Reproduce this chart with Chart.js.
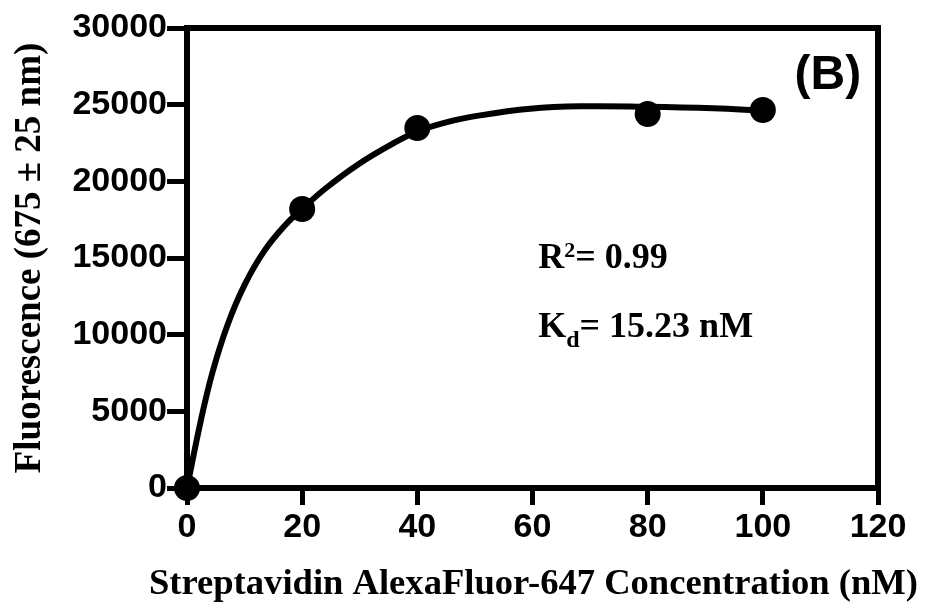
<!DOCTYPE html>
<html><head><meta charset="utf-8">
<script src="https://cdn.jsdelivr.net/npm/chart.js@4.4.1/dist/chart.umd.min.js"></script>
<style>html,body{margin:0;padding:0;background:#fff;}#wrap{width:932px;height:610px;}</style>
</head><body><div id="wrap"><canvas id="c" width="932" height="610"></canvas></div>
<script>
// Measured data points
const concentrations = [0, 20, 40, 80, 100];
const fluorescence = [0, 18200, 23480, 24390, 24650];
// Fitted curve
const fitX = [0, 2.4, 4.5, 7.1, 10, 13.4, 17.2, 20, 24.1, 29.9, 35.7, 40, 45, 50.9, 59.6, 68.3, 79.8, 91.4, 100];
const fitY = [0, 4400, 7650, 10700, 13250, 15450, 17200, 18200, 19550, 21150, 22450, 23250, 23850, 24300, 24730, 24890, 24860, 24760, 24610];
// Tick labels
const xTicks = [0, 20, 40, 60, 80, 100, 120];
const yTicks = [0, 5000, 10000, 15000, 20000, 25000, 30000];
// Texts
const xTitle = 'Streptavidin AlexaFluor-647 Concentration (nM)';
const yTitle = 'Fluorescence (675 \u00B1 25 nm)';
const panelLabel = '(B)';
const r2Text = '= 0.99';
const kdText = '= 15.23 nM';

const SANS = "'Liberation Sans', Arial, sans-serif";
const SERIF = "'Liberation Serif', 'Times New Roman', serif";

const decor = {
  id: 'decor',
  beforeDatasetsDraw(chart) {
    const {ctx, chartArea: a} = chart;
    ctx.save();
    ctx.strokeStyle = '#000';
    ctx.lineWidth = 6;
    ctx.lineCap = 'square';
    ctx.beginPath();
    ctx.moveTo(a.left, a.top);
    ctx.lineTo(a.right, a.top);
    ctx.lineTo(a.right, a.bottom);
    ctx.stroke();
    ctx.restore();
  },
  afterDraw(chart) {
    const {ctx, chartArea: a} = chart;
    const xs = chart.scales.x, ys = chart.scales.y;
    ctx.save();
    ctx.fillStyle = '#000';
    ctx.textBaseline = 'alphabetic';
    // x axis title
    ctx.font = "bold 36.6px " + SERIF;
    ctx.textAlign = 'center';
    ctx.fillText(xTitle, (a.left + a.right) / 2 + 1, xs.bottom - 16);
    // panel label
    ctx.font = "bold 48px " + SANS;
    ctx.fillText(panelLabel, xs.getPixelForValue(111.3), ys.getPixelForValue(26050));
    ctx.textAlign = 'left';
    // R^2
    let x = xs.getPixelForValue(61.0);
    let y = ys.getPixelForValue(14350);
    ctx.font = "bold 36px " + SERIF;
    ctx.fillText('R', x, y);
    x += ctx.measureText('R').width;
    ctx.font = "bold 22px " + SERIF;
    ctx.fillText('2', x, y - 11);
    x += ctx.measureText('2').width;
    ctx.font = "bold 36px " + SERIF;
    ctx.fillText(r2Text, x, y);
    // Kd
    x = xs.getPixelForValue(61.0);
    y = ys.getPixelForValue(9850);
    ctx.fillText('K', x, y);
    x += ctx.measureText('K').width;
    ctx.font = "bold 24px " + SERIF;
    ctx.fillText('d', x, y + 10);
    x += ctx.measureText('d').width;
    ctx.font = "bold 36px " + SERIF;
    ctx.fillText(kdText, x, y);
    ctx.restore();
  }
};

new Chart(document.getElementById('c'), {
  type: 'line',
  data: {
    datasets: [
      {
        label: 'data',
        data: concentrations.map((v, i) => ({x: v, y: fluorescence[i]})),
        showLine: false,
        pointRadius: 13,
        pointHoverRadius: 13,
        pointBackgroundColor: '#000',
        pointBorderColor: '#000',
        pointBorderWidth: 0,
        clip: false,
        order: 0
      },
      {
        label: 'fit',
        data: fitX.map((v, i) => ({x: v, y: fitY[i]})),
        borderColor: '#000',
        borderWidth: 6,
        pointRadius: 0,
        tension: 0.4,
        fill: false,
        clip: false,
        order: 1
      }
    ]
  },
  options: {
    responsive: false,
    animation: false,
    events: [],
    layout: {padding: {left: 0, top: 28, right: 54, bottom: 0}},
    plugins: {legend: {display: false}, tooltip: {enabled: false}},
    scales: {
      x: {
        type: 'linear',
        min: 0, max: 120,
        afterBuildTicks: s => { s.ticks = xTicks.map(v => ({value: v})); },
        afterFit: s => { s.height = 122; },
        border: {display: true, width: 6, color: '#000'},
        grid: {drawOnChartArea: false, drawTicks: true, tickLength: 17, tickWidth: 5, tickColor: '#000', lineWidth: 5, color: '#000'},
        ticks: {color: '#000', font: {family: SANS, size: 34, weight: 'bold'}, padding: 2, maxRotation: 0, autoSkip: false},
        title: {display: false}
      },
      y: {
        type: 'linear',
        min: 0, max: 30000,
        afterBuildTicks: s => { s.ticks = yTicks.map(v => ({value: v})); },
        afterFit: s => { s.width = 187; },
        border: {display: true, width: 6, color: '#000'},
        grid: {drawOnChartArea: false, drawTicks: true, tickLength: 20, tickWidth: 5, tickColor: '#000', lineWidth: 5, color: '#000'},
        ticks: {color: '#000', font: {family: SANS, size: 34, weight: 'bold'}, padding: 0, autoSkip: false, callback: v => String(v)},
        title: {display: true, text: yTitle, color: '#000', font: {family: SERIF, size: 37, weight: 'bold'}, padding: {top: 8, bottom: 0}}
      }
    }
  },
  plugins: [decor]
});
</script></body></html>
